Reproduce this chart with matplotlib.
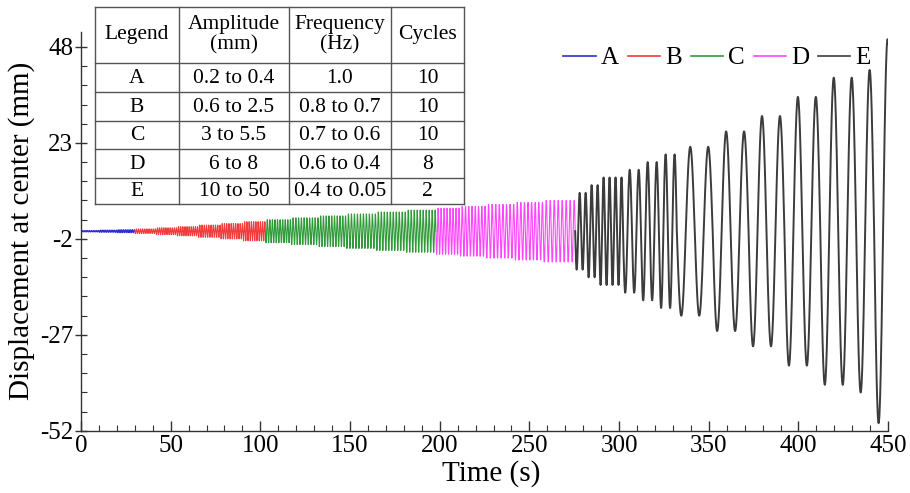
import numpy as np
import matplotlib
matplotlib.use("Agg")
import matplotlib.pyplot as plt
from matplotlib.ticker import MultipleLocator, FixedLocator
from matplotlib.lines import Line2D

# ---------------- data ----------------
segment_names = ["A", "B", "C", "D", "E"]
segment_colors = ["#2f2fd0", "#f23a3a", "#2f9a38", "#ff45ff", "#3c3c3c"]

# amplitude (mm), frequency (Hz), number of cycles for each amplitude step
A_amp = [0.2, 0.3, 0.4]
A_freq = [1.0, 1.0, 1.0]
A_cyc = [10, 10, 10]

B_amp = [0.6, 0.9, 1.2, 1.6, 2.0, 2.5]
B_freq = [0.85, 0.85, 0.85, 0.8, 0.8, 0.8]
B_cyc = [10, 10, 10, 10, 10, 10]

C_amp = [3.0, 3.5, 4.0, 4.5, 5.0, 5.5]
C_freq = [0.7, 0.65, 0.65, 0.6, 0.6, 0.6]
C_cyc = [10, 10, 10, 10, 10, 10]

D_amp = [6.0, 6.5, 7.0, 7.5, 8.0]
D_freq = [0.6, 0.55, 0.5, 0.5, 0.45]
D_cyc = [8, 8, 8, 8, 8]

E_amp = [10, 12, 14, 14, 16, 18, 20, 22, 26, 30, 35, 40, 42, 50]
E_freq = [0.3, 0.3, 0.3, 0.3, 0.2, 0.2, 0.2, 0.1, 0.1, 0.1, 0.1, 0.1, 0.1, 0.1]
E_cyc = [2, 2, 2, 2, 2, 2, 2, 2, 2, 2, 2, 2, 1, 1]

x_ticks = [0, 50, 100, 150, 200, 250, 300, 350, 400, 450]
y_ticks = [-52, -27, -2, 23, 48]

table_header = ["Legend", "Amplitude\n(mm)", "Frequency\n(Hz)", "Cycles"]
table_legend = ["A", "B", "C", "D", "E"]
table_amplitude = ["0.2 to 0.4", "0.6 to 2.5", "3 to 5.5", "6 to 8", "10 to 50"]
table_frequency = ["1.0", "0.8 to 0.7", "0.7 to 0.6", "0.6 to 0.4", "0.4 to 0.05"]
table_cycles = ["10", "10", "10", "8", "2"]

# ---------------- styling ----------------
plt.rcParams["font.family"] = ["Liberation Serif", "DejaVu Serif"]
plt.rcParams["axes.unicode_minus"] = False


def build(amps, freqs, cycles, t_start):
    ts, ys = [], []
    t0 = t_start
    for a, f, n in zip(amps, freqs, cycles):
        dur = n / f
        tt = np.linspace(0.0, dur, int(n * 60) + 1)
        ts.append(t0 + tt)
        ys.append(-a * np.sin(2 * np.pi * f * tt))
        t0 += dur
    return np.concatenate(ts), np.concatenate(ys), t0


fig = plt.figure(figsize=(9.10, 4.93), dpi=100)
ax = fig.add_axes([0.089, 0.126, 0.887, 0.810])

groups = [(A_amp, A_freq, A_cyc), (B_amp, B_freq, B_cyc), (C_amp, C_freq, C_cyc),
          (D_amp, D_freq, D_cyc), (E_amp, E_freq, E_cyc)]
t_cur = 0.0
for name, color, (am, fr, cy) in zip(segment_names, segment_colors, groups):
    t, y, t_cur = build(am, fr, cy, t_cur)
    lw = 1.4 if name == "E" else 0.8
    ax.plot(t, y, color=color, lw=lw, label=name)

ax.set_xlim(0, 450)
ax.set_ylim(-52, 52)
ax.spines["top"].set_visible(False)
ax.spines["right"].set_visible(False)
for s in ("left", "bottom"):
    ax.spines[s].set_linewidth(1.0)
    ax.spines[s].set_color("#333333")

ax.xaxis.set_major_locator(FixedLocator(x_ticks))
ax.xaxis.set_minor_locator(MultipleLocator(10))
ax.yaxis.set_major_locator(FixedLocator(y_ticks))
ax.yaxis.set_minor_locator(FixedLocator(list(np.arange(-52, 53, 5))))
ax.tick_params(axis="x", which="major", direction="in", length=7, width=1,
               labelsize=18, pad=3, colors="#333333", labelcolor="black")
ax.tick_params(axis="x", which="minor", direction="in", length=4, width=0.8, colors="#333333")
ax.tick_params(axis="y", which="major", direction="inout", length=9, width=1,
               labelsize=18, pad=1, colors="#333333", labelcolor="black")
ax.tick_params(axis="y", which="minor", direction="in", length=4, width=0.8, colors="#333333")

ax.set_xlabel("Time (s)", fontsize=21, labelpad=-2)
ax.xaxis.set_label_coords(0.508, -0.072)
ax.set_ylabel("Displacement at center (mm)", fontsize=21, labelpad=0)
ax.yaxis.set_label_coords(-0.057, 0.5)

handles = [Line2D([0], [0], color=c, lw=1.2) for c in segment_colors]
leg = fig.legend(handles, segment_names, loc="center", bbox_to_anchor=(0.788, 0.882),
                 ncol=5, frameon=False, fontsize=18, handlelength=1.3,
                 handletextpad=0.2, columnspacing=0.35)

# ---------------- table ----------------
W, H = 910.0, 493.0
col_bounds = [95, 179, 289, 391, 464]
row_bounds = [7, 63, 92, 121, 149, 178, 204]
tab = fig.add_axes([0, 0, 1, 1], facecolor="none")
tab.set_xlim(0, W)
tab.set_ylim(H, 0)
tab.axis("off")
tab.fill_between([col_bounds[0], col_bounds[-1]], row_bounds[0], row_bounds[-1],
                 color="white", zorder=0)
for xb in col_bounds:
    tab.plot([xb, xb], [row_bounds[0], row_bounds[-1]], color="#555555", lw=1.0)
for yb in row_bounds:
    tab.plot([col_bounds[0], col_bounds[-1]], [yb, yb], color="#555555", lw=1.0)

columns = [table_legend, table_amplitude, table_frequency, table_cycles]
for ci in range(4):
    xc = (col_bounds[ci] + col_bounds[ci + 1]) / 2
    yc = (row_bounds[0] + row_bounds[1]) / 2
    tab.text(xc, yc, table_header[ci], ha="center", va="center", fontsize=15.5,
             linespacing=1.1)
    for ri, val in enumerate(columns[ci]):
        yc = (row_bounds[ri + 1] + row_bounds[ri + 2]) / 2 + 1
        tab.text(xc, yc, val, ha="center", va="center", fontsize=15.5)

fig.savefig("out.png", dpi=100)
